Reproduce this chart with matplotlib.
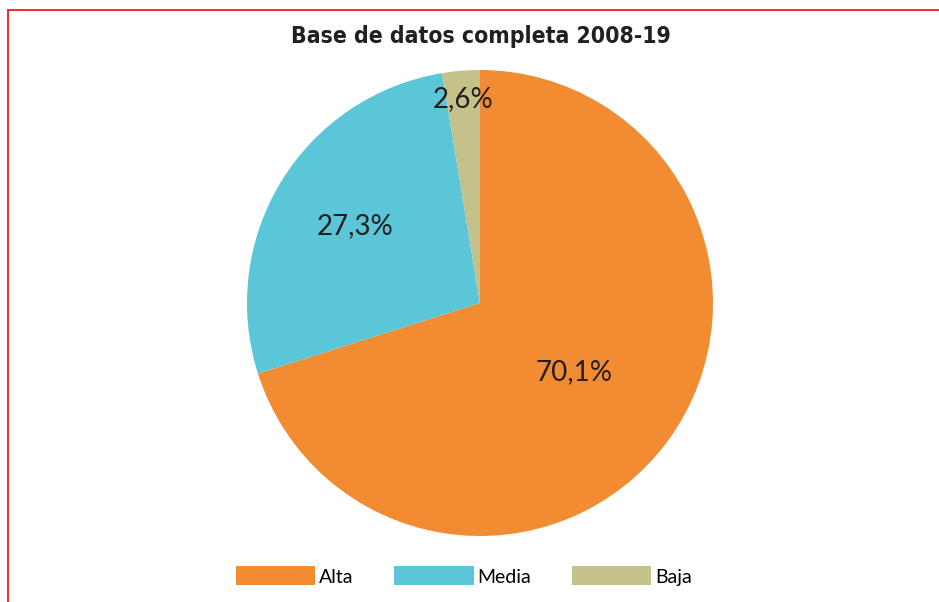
import matplotlib
matplotlib.use("Agg")
import matplotlib.pyplot as plt
import numpy as np
from matplotlib.patches import Patch
from matplotlib.lines import Line2D

categories = ["Alta", "Media", "Baja"]
values = [70.1, 27.3, 2.6]
labels = ["70,1%", "27,3%", "2,6%"]
colors = ["#F28C33", "#5BC6D7", "#C4C18A"]
label_dist = [0.5, 0.63, 0.88]

W, H = 939, 602
fig = plt.figure(figsize=(W / 100, H / 100), dpi=100)

cx, cy, r = 480, 303, 233
ax = fig.add_axes([(cx - r) / W, (H - cy - r) / H, 2 * r / W, 2 * r / H])
wedges, _ = ax.pie(values, colors=colors, startangle=90, counterclock=False,
                   radius=1, wedgeprops=dict(linewidth=0))
ax.set_xlim(-1, 1)
ax.set_ylim(-1, 1)
ax.set_aspect("equal")
ax.axis("off")

for w, lab, d in zip(wedges, labels, label_dist):
    ang = np.deg2rad((w.theta1 + w.theta2) / 2)
    ax.text(d * np.cos(ang), d * np.sin(ang), lab, ha="center", va="center",
            fontsize=20, family="Lato", fontweight="normal", color="#231f20")

fig.text(481 / W, 1 - 37 / H, "Base de datos completa 2008-19", ha="center", va="center",
         fontsize=16.5, fontweight="bold", family="DejaVu Sans", stretch="condensed",
         color="#231f20")

handles = [Patch(facecolor=c, edgecolor="none") for c in colors]
fig.legend(handles, categories, loc="center", bbox_to_anchor=(464 / W, 1 - 576 / H),
           ncol=3, frameon=False, handlelength=4.07, handleheight=1.13,
           handletextpad=0.2, columnspacing=2.1, prop=dict(family="Lato", size=14))

red = "#EE2A2F"
fig.add_artist(Line2D([8 / W, 1.0], [1 - 10 / H, 1 - 10 / H], transform=fig.transFigure,
                      color=red, linewidth=1.4))
fig.add_artist(Line2D([8 / W, 8 / W], [0, 1 - 10 / H], transform=fig.transFigure,
                      color=red, linewidth=1.4))

fig.savefig("out.png", dpi=100)
